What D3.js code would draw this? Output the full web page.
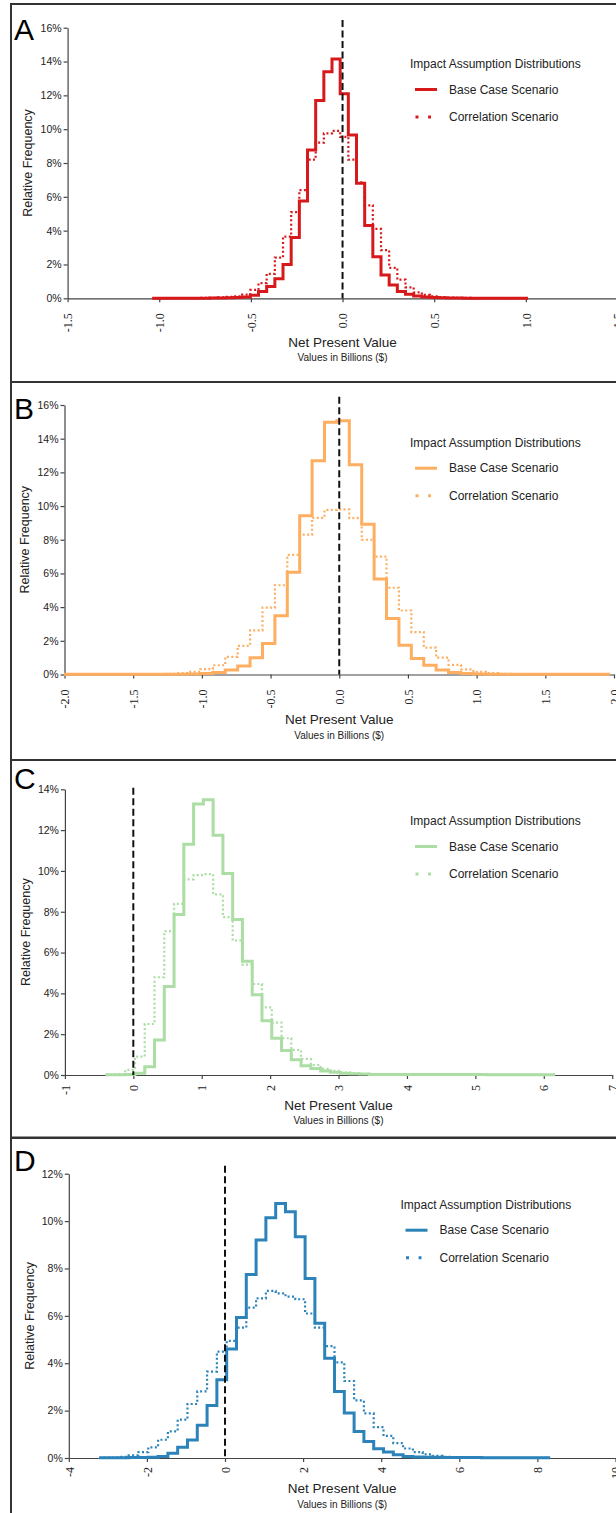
<!DOCTYPE html>
<html>
<head>
<meta charset="utf-8">
<script src="https://cdnjs.cloudflare.com/ajax/libs/d3/7.8.5/d3.min.js"></script>
<style>
  body { margin: 0; background: #fff; }
  svg { display: block; font-family: "Liberation Sans", Arial, sans-serif; }
  .axis path, .axis line { stroke: #444; stroke-width: 1.2; }
  .axis text { fill: #222; }
</style>
</head>
<body>
<div id="chart-area"></div>
<script>
// bins: start of first bin + width, values = relative frequency (%)
var binStartA = -1.0376, binWidthA = 0.04455;
var baseA = [0.01,0.01,0.01,0.01,0.01,0.01,0.01,0.02,0.02,0.03,
             0.05,0.08,0.18,0.4,0.7,1.15,2.0,3.6,5.75,8.77,
             11.7,13.4,14.15,12.1,9.65,6.8,4.3,2.46,1.38,0.79,
             0.4,0.24,0.14,0.07,0.04,0.03,0.02,0.02,0.01,0.01,
             0.01,0.01,0.01,0.01,0.01,0.01];
var corrA = [0.01,0.01,0.01,0.01,0.01,0.01,0.02,0.03,0.05,0.08,
             0.12,0.22,0.5,0.9,1.45,2.4,3.65,5.1,6.4,8.2,
             9.2,9.75,9.9,9.55,8.2,6.85,5.5,4.1,2.85,1.8,
             1.1,0.65,0.35,0.2,0.12,0.07,0.04,0.03,0.02,0.01,
             0.01,0.01,0.01,0.01,0.01,0.01];

var binStartB = -2.0036, binWidthB = 0.0903;
var baseB = [0.01,0.01,0.01,0.01,0.01,0.01,0.01,0.01,0.02,0.02,
             0.03,0.06,0.12,0.26,0.5,0.99,1.84,3.49,6.07,9.42,
             12.69,14.97,15.07,12.45,8.92,5.67,3.33,1.74,0.95,0.55,
             0.26,0.12,0.06,0.03,0.02,0.02,0.01,0.01,0.01,0.01,
             0.01,0.01,0.01,0.01];
var corrB = [0.01,0.01,0.01,0.01,0.01,0.01,0.02,0.03,0.04,0.08,
             0.15,0.32,0.55,1.05,1.7,2.62,3.97,5.3,7.1,8.3,
             9.3,9.77,9.8,9.28,8.0,7.0,5.15,3.8,2.52,1.6,
             1.0,0.57,0.3,0.15,0.08,0.04,0.02,0.02,0.01,0.01,
             0.01,0.01,0.01,0.01];

var binStartC = -0.404, binWidthC = 0.1428;
var baseC = [0.01,0.01,0.02,0.08,0.41,1.72,4.34,7.87,11.31,13.28,
             13.49,11.75,9.87,7.62,5.57,3.93,2.66,1.8,1.2,0.75,
             0.45,0.32,0.2,0.13,0.09,0.06,0.05,0.03,0.03,0.03,
             0.02,0.02,0.02,0.02,0.02,0.02,0.02,0.02,0.02,0.01,
             0.01,0.01,0.01,0.01,0.01,0.01];
var corrC = [0.02,0.05,0.25,0.9,2.5,4.79,7.05,8.39,9.59,9.79,
             9.84,8.85,7.74,6.59,5.41,4.46,3.31,2.57,1.8,1.23,
             0.79,0.49,0.3,0.2,0.12,0.08,0.05,0.03,0.02,0.02,
             0.02,0.02,0.01,0.01,0.01,0.01,0.01,0.01,0.01,0.01,
             0.01,0.01,0.01,0.01,0.01,0.01];

var binStartD = -3.22, binWidthD = 0.251;
var baseD = [0.01,0.01,0.01,0.02,0.02,0.03,0.06,0.2,0.45,0.76,
             1.38,2.22,3.3,4.6,5.93,7.75,9.2,10.14,10.74,10.39,
             9.34,7.58,5.69,4.21,2.81,1.9,1.12,0.7,0.39,0.25,
             0.14,0.06,0.04,0.03,0.03,0.02,0.02,0.02,0.02,0.01,
             0.01,0.01,0.01,0.01,0.01,0.01];
var corrD = [0.01,0.02,0.05,0.11,0.25,0.45,0.77,1.12,1.62,2.28,
             2.81,3.65,4.49,4.94,5.5,6.35,6.74,7.05,6.95,6.81,
             6.7,6.1,5.5,4.72,4.04,3.25,2.43,1.88,1.3,0.93,
             0.63,0.4,0.25,0.15,0.09,0.05,0.03,0.02,0.02,0.01,
             0.01,0.01,0.01,0.01,0.01,0.01];

var xTicksA = [-1.5, -1, -0.5, 0, 0.5, 1, 1.5];
var xTicksB = [-2, -1.5, -1, -0.5, 0, 0.5, 1, 1.5, 2];
var xTicksC = [-1, 0, 1, 2, 3, 4, 5, 6, 7];
var xTicksD = [-4, -2, 0, 2, 4, 6, 8, 10];
var yTicks16 = [0, 2, 4, 6, 8, 10, 12, 14, 16];
var yTicks14 = [0, 2, 4, 6, 8, 10, 12, 14];
var yTicks12 = [0, 2, 4, 6, 8, 10, 12];

var legendTitle = "Impact Assumption Distributions";
var seriesNames = ["Base Case Scenario", "Correlation Scenario"];

// layout for each panel
var panels = [
	{letter: "A", color: "#d7191c", base: baseA, corr: corrA, start: binStartA, bw: binWidthA,
	 xDomain: [-1.5, 1.5], xTicks: xTicksA, fmt: function(d){ return d.toFixed(1); },
	 yMax: 16, yTicks: yTicks16,
	 top: 4, left: 67.6, right: 617.5, bottom: 298.3, plotTop: 27.7, dashTop: 20,
	 letterY: 40, legX: 410, legY: 64, tickOff: 15, titleOff: 48.5},
	{letter: "B", color: "#fdae61", base: baseB, corr: corrB, start: binStartB, bw: binWidthB,
	 xDomain: [-2, 2], xTicks: xTicksB, fmt: function(d){ return d.toFixed(1); },
	 yMax: 16, yTicks: yTicks16,
	 top: 382, left: 64.5, right: 614, bottom: 674.5, plotTop: 405, dashTop: 396.7,
	 letterY: 419, legX: 410, legY: 442.7, tickOff: 15, titleOff: 49.5},
	{letter: "C", color: "#abdda4", base: baseC, corr: corrC, start: binStartC, bw: binWidthC,
	 xDomain: [-1, 7], xTicks: xTicksC, fmt: function(d){ return String(d); },
	 yMax: 14, yTicks: yTicks14,
	 top: 760, left: 64.9, right: 612.2, bottom: 1075, plotTop: 789.3, dashTop: 787.7,
	 letterY: 789, legX: 410, legY: 821, tickOff: 10, titleOff: 34.5},
	{letter: "D", color: "#2b83ba", base: baseD, corr: corrD, start: binStartD, bw: binWidthD,
	 xDomain: [-4, 10], xTicks: xTicksD, fmt: function(d){ return String(d); },
	 yMax: 12, yTicks: yTicks12,
	 top: 1137.5, left: 68.8, right: 615.5, bottom: 1458, plotTop: 1173.7, dashTop: 1165.7,
	 letterY: 1171, legX: 400.5, legY: 1204.7, tickOff: 9, titleOff: 35}
];

var svg = d3.select("#chart-area")
	.append("svg")
		.attr("width", 616)
		.attr("height", 1513);

panels.forEach(function(p, i){
	var g = svg.append("g");

	// panel frame
	g.append("rect")
		.attr("x", 11)
		.attr("y", p.top)
		.attr("width", 700)
		.attr("height", i < 3 ? 378 : 420)
		.attr("fill", "none")
		.attr("stroke", "#333")
		.attr("stroke-width", 2);

	var x = d3.scaleLinear().domain(p.xDomain).range([p.left, p.right]);
	var y = d3.scaleLinear().domain([0, p.yMax]).range([p.bottom, p.plotTop]);

	// Y axis
	g.append("g")
		.attr("class", "axis")
		.attr("transform", "translate(" + p.left + ",0)")
		.call(d3.axisLeft(y).tickValues(p.yTicks).tickSize(4).tickSizeOuter(0)
			.tickFormat(function(d){ return d + "%"; }))
		.call(function(a){ a.selectAll("text").attr("font-size", "10.5px").attr("x", -6); });

	// X axis
	g.append("g")
		.attr("class", "axis")
		.attr("transform", "translate(0," + p.bottom + ")")
		.call(d3.axisBottom(x).tickValues(p.xTicks).tickSize(4).tickSizeOuter(0).tickFormat(p.fmt))
		.call(function(a){
			a.selectAll("text")
				.attr("font-family", "'Liberation Serif', 'Times New Roman', serif")
				.attr("font-size", "12px")
				.attr("text-anchor", "end")
				.attr("transform", "rotate(-90)")
				.attr("x", -p.tickOff)
				.attr("y", 0)
				.attr("dy", "0.35em");
		});

	// step histograms
	function steps(vals){
		var pts = vals.map(function(v, k){ return [p.start + k * p.bw, v]; });
		pts.push([p.start + vals.length * p.bw, vals[vals.length - 1]]);
		return pts;
	}
	var line = d3.line()
		.x(function(d){ return x(d[0]); })
		.y(function(d){ return y(d[1]); })
		.curve(d3.curveStepAfter);

	g.append("path")
		.attr("d", line(steps(p.corr)))
		.attr("fill", "none")
		.attr("stroke", p.color)
		.attr("stroke-width", 2.2)
		.attr("stroke-dasharray", "2,2.4");

	g.append("path")
		.attr("d", line(steps(p.base)))
		.attr("fill", "none")
		.attr("stroke", p.color)
		.attr("stroke-width", 3)
		.attr("stroke-linejoin", "miter");

	// zero line
	g.append("line")
		.attr("x1", x(0)).attr("x2", x(0))
		.attr("y1", p.dashTop).attr("y2", p.bottom)
		.attr("stroke", "#111")
		.attr("stroke-width", 2)
		.attr("stroke-dasharray", "7,3.5");

	// panel letter
	g.append("text")
		.attr("x", 14)
		.attr("y", p.letterY)
		.attr("font-size", "30px")
		.attr("fill", "#000")
		.text(p.letter);

	// Y label
	g.append("text")
		.attr("transform", "translate(" + (p.left - 39.5) + "," + ((p.bottom + p.plotTop) / 2) + ") rotate(-90)")
		.attr("text-anchor", "middle")
		.attr("dy", "0.35em")
		.attr("font-size", "12.5px")
		.attr("fill", "#222")
		.text("Relative Frequency");

	// X labels
	var cx = (p.left + p.right) / 2;
	g.append("text")
		.attr("x", cx)
		.attr("y", p.bottom + p.titleOff)
		.attr("text-anchor", "middle")
		.attr("font-size", "13.5px")
		.attr("fill", "#222")
		.text("Net Present Value");
	g.append("text")
		.attr("x", cx)
		.attr("y", p.bottom + p.titleOff + 14.5)
		.attr("text-anchor", "middle")
		.attr("font-size", "10px")
		.attr("fill", "#222")
		.text("Values in Billions ($)");

	// legend
	var legend = g.append("g")
		.attr("transform", "translate(" + p.legX + "," + p.legY + ")");
	legend.append("text")
		.attr("x", 0)
		.attr("y", 0)
		.attr("dy", "0.35em")
		.attr("font-size", "12px")
		.attr("fill", "#222")
		.text(legendTitle);

	seriesNames.forEach(function(name, j){
		var row = legend.append("g")
			.attr("transform", "translate(0," + (25.5 + j * 27.5) + ")");
		row.append("line")
			.attr("x1", j == 0 ? 5 : 5.5)
			.attr("x2", j == 0 ? 27 : 21)
			.attr("stroke", p.color)
			.attr("stroke-width", 3)
			.attr("stroke-dasharray", j == 0 ? null : "3,9.6");
		row.append("text")
			.attr("x", 39)
			.attr("dy", "0.35em")
			.attr("font-size", "12px")
			.attr("fill", "#222")
			.text(name);
	});
});
</script>
</body>
</html>
